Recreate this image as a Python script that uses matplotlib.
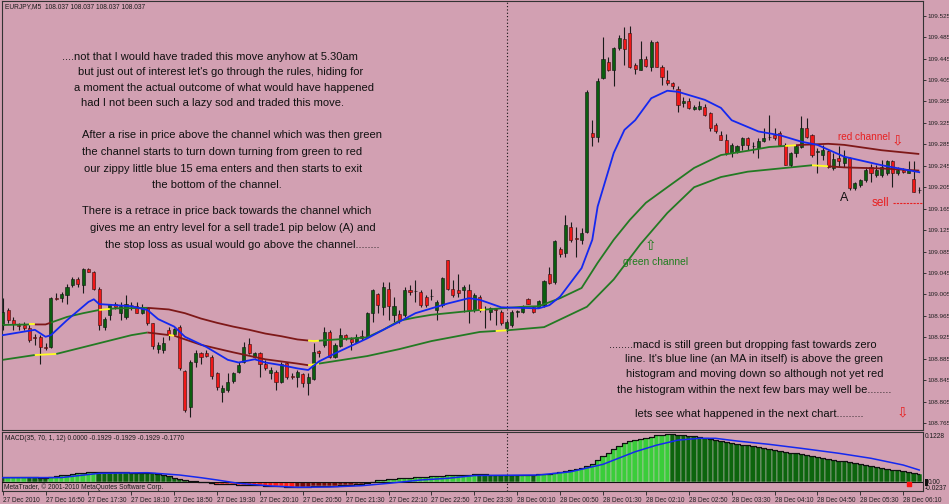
import numpy as np
import matplotlib
matplotlib.use("Agg")
import matplotlib.pyplot as plt

# ---- data (EURJPY M5, 27 Dec 16:10 -> 28 Dec 06:25) ----
opens = [108.948, 108.976, 108.958, 108.948, 108.948, 108.943, 108.925, 108.926, 108.907, 108.907,
         108.999, 108.999, 109.004, 109.022, 109.033, 109.022, 109.052, 109.047, 109.016, 108.945,
         108.966, 108.987, 108.970, 108.963, 108.985, 108.983, 108.970, 108.980, 108.951, 108.904,
         108.902, 108.939, 108.932, 108.945, 108.862, 108.795, 108.879, 108.895, 108.896, 108.889,
         108.858, 108.823, 108.826, 108.844, 108.861, 108.879, 108.913, 108.889, 108.895, 108.876,
         108.858, 108.861, 108.842, 108.877, 108.852, 108.851, 108.856, 108.839, 108.848, 108.900,
         108.910, 108.934, 108.889, 108.909, 108.929, 108.922, 108.917, 108.928, 108.926, 108.971,
         109.005, 108.982, 109.016, 108.966, 108.968, 108.966, 109.013, 109.011, 109.010, 109.001,
         109.002, 108.976, 108.985, 109.069, 109.016, 109.013, 109.013, 109.014, 108.976, 109.001,
         108.978, 108.973, 108.977, 108.973, 108.942, 108.948, 108.973, 108.973, 108.997, 108.982,
         108.982, 108.985, 109.044, 109.029, 109.090, 109.083, 109.131, 109.110, 109.106, 109.122,
         109.307, 109.299, 109.408, 109.439, 109.424, 109.464, 109.481, 109.492, 109.433, 109.424,
         109.445, 109.430, 109.475, 109.430, 109.405, 109.400, 109.389, 109.363, 109.366, 109.350,
         109.350, 109.355, 109.343, 109.321, 109.302, 109.294, 109.268, 109.271, 109.284, 109.296,
         109.282, 109.278, 109.292, 109.298, 109.302, 109.307, 109.284, 109.246, 109.268, 109.280,
         109.315, 109.302, 109.271, 109.265, 109.273, 109.240, 109.259, 109.251, 109.259, 109.203,
         109.209, 109.218, 109.243, 109.228, 109.228, 109.231, 109.253, 109.231, 109.238, 109.231,
         109.221, 109.200]
highs = [108.998, 108.979, 108.963, 108.951, 108.954, 108.948, 108.932, 108.929, 108.914, 109.001,
         109.007, 109.010, 109.025, 109.038, 109.038, 109.054, 109.055, 109.048, 109.019, 108.963,
         108.988, 108.990, 108.991, 109.004, 108.991, 108.991, 108.987, 108.982, 108.951, 108.917,
         108.926, 108.945, 108.942, 108.948, 108.864, 108.882, 108.901, 108.898, 108.901, 108.892,
         108.861, 108.836, 108.858, 108.861, 108.879, 108.917, 108.923, 108.898, 108.898, 108.882,
         108.870, 108.864, 108.879, 108.879, 108.858, 108.864, 108.859, 108.858, 108.914, 108.901,
         108.945, 108.938, 108.914, 108.942, 108.932, 108.926, 108.932, 108.938, 108.973, 109.016,
         109.007, 109.029, 109.029, 109.001, 108.976, 109.019, 109.022, 109.032, 109.013, 109.004,
         109.016, 108.994, 109.038, 109.070, 109.032, 109.044, 109.022, 109.025, 109.007, 109.004,
         108.983, 108.981, 108.979, 108.976, 108.957, 108.976, 108.976, 108.985, 108.999, 108.983,
         108.994, 109.032, 109.057, 109.106, 109.094, 109.153, 109.141, 109.131, 109.128, 109.386,
         109.330, 109.408, 109.486, 109.447, 109.467, 109.489, 109.503, 109.506, 109.436, 109.477,
         109.449, 109.480, 109.477, 109.433, 109.424, 109.402, 109.393, 109.374, 109.371, 109.358,
         109.365, 109.361, 109.346, 109.324, 109.309, 109.305, 109.287, 109.284, 109.299, 109.299,
         109.290, 109.296, 109.315, 109.340, 109.315, 109.309, 109.287, 109.271, 109.284, 109.337,
         109.334, 109.305, 109.278, 109.284, 109.274, 109.268, 109.281, 109.274, 109.262, 109.215,
         109.221, 109.243, 109.249, 109.246, 109.256, 109.256, 109.256, 109.243, 109.240, 109.253,
         109.253, 109.206]
lows = [108.938, 108.951, 108.938, 108.938, 108.938, 108.917, 108.910, 108.876, 108.902, 108.906,
        108.994, 108.990, 108.988, 109.019, 109.019, 109.007, 109.046, 109.013, 108.938, 108.938,
        108.957, 108.978, 108.957, 108.960, 108.976, 108.970, 108.968, 108.948, 108.904, 108.895,
        108.895, 108.920, 108.930, 108.864, 108.786, 108.777, 108.870, 108.876, 108.889, 108.848,
        108.826, 108.805, 108.823, 108.839, 108.858, 108.877, 108.894, 108.886, 108.851, 108.864,
        108.848, 108.826, 108.839, 108.848, 108.848, 108.833, 108.833, 108.817, 108.845, 108.889,
        108.907, 108.887, 108.887, 108.907, 108.920, 108.901, 108.914, 108.920, 108.923, 108.954,
        108.970, 108.966, 108.957, 108.954, 108.951, 108.963, 109.004, 108.991, 108.982, 108.982,
        108.994, 108.957, 108.982, 109.013, 109.001, 109.001, 108.973, 108.951, 108.973, 108.973,
        108.942, 108.957, 108.948, 108.948, 108.935, 108.945, 108.963, 108.971, 108.987, 108.971,
        108.981, 108.982, 109.025, 109.025, 109.075, 109.075, 109.103, 109.075, 109.100, 109.119,
        109.281, 109.290, 109.406, 109.421, 109.393, 109.461, 109.433, 109.427, 109.417, 109.423,
        109.430, 109.421, 109.429, 109.396, 109.396, 109.389, 109.346, 109.354, 109.350, 109.349,
        109.349, 109.338, 109.309, 109.306, 109.293, 109.265, 109.262, 109.268, 109.274, 109.274,
        109.268, 109.259, 109.290, 109.293, 109.293, 109.282, 109.246, 109.243, 109.262, 109.278,
        109.296, 109.262, 109.231, 109.256, 109.240, 109.237, 109.243, 109.243, 109.200, 109.199,
        109.206, 109.215, 109.215, 109.225, 109.225, 109.228, 109.206, 109.228, 109.232, 109.231,
        109.197, 109.194]
closes = [108.973, 108.957, 108.950, 108.947, 108.943, 108.920, 108.924, 108.907, 108.906, 108.998,
          108.996, 109.005, 109.018, 109.033, 109.024, 109.053, 109.047, 109.016, 108.948, 108.960,
          108.987, 108.982, 108.983, 108.988, 108.985, 108.971, 108.982, 108.951, 108.909, 108.910,
          108.915, 108.932, 108.940, 108.867, 108.789, 108.879, 108.895, 108.889, 108.890, 108.853,
          108.833, 108.830, 108.842, 108.858, 108.873, 108.907, 108.895, 108.896, 108.876, 108.867,
          108.864, 108.842, 108.876, 108.851, 108.851, 108.861, 108.839, 108.851, 108.898, 108.895,
          108.935, 108.889, 108.910, 108.929, 108.923, 108.917, 108.926, 108.924, 108.971, 109.013,
          108.985, 109.018, 108.983, 108.983, 108.957, 109.013, 109.010, 109.011, 108.985, 108.985,
          109.002, 108.991, 109.035, 109.016, 109.004, 109.007, 109.018, 108.976, 109.004, 108.976,
          108.977, 108.979, 108.976, 108.951, 108.954, 108.973, 108.973, 108.983, 108.988, 108.973,
          108.993, 109.030, 109.027, 109.105, 109.080, 109.134, 109.106, 109.109, 109.119, 109.383,
          109.299, 109.404, 109.445, 109.424, 109.464, 109.483, 109.462, 109.430, 109.425, 109.445,
          109.432, 109.475, 109.430, 109.411, 109.400, 109.393, 109.358, 109.366, 109.352, 109.355,
          109.357, 109.340, 109.315, 109.309, 109.294, 109.268, 109.284, 109.281, 109.296, 109.284,
          109.282, 109.292, 109.296, 109.298, 109.296, 109.284, 109.246, 109.268, 109.281, 109.315,
          109.299, 109.265, 109.271, 109.274, 109.243, 109.257, 109.253, 109.261, 109.203, 109.212,
          109.218, 109.237, 109.231, 109.237, 109.243, 109.253, 109.231, 109.237, 109.234, 109.237,
          109.197, 109.200]

# blue 15 ema, read at bar positions
ema_idx = [0, 6, 8, 9, 12, 16, 17, 18, 24, 27, 29, 32, 34, 38, 42, 44, 47, 49, 52, 55, 57, 59, 62,
           65, 68, 71, 74, 77, 80, 83, 87, 89, 93, 100, 102, 104, 108, 110, 111, 114, 116, 118, 121,
           124, 126, 131, 134, 136, 141, 145, 149, 152, 157, 164, 171]
ema_val = [108.929, 108.939, 108.926, 108.929, 108.957, 108.991, 108.996, 108.987, 108.983, 108.976,
           108.959, 108.945, 108.926, 108.907, 108.883, 108.878, 108.884, 108.878, 108.873, 108.867,
           108.864, 108.880, 108.895, 108.909, 108.923, 108.939, 108.954, 108.970, 108.979, 108.988,
           108.998, 108.995, 108.981, 108.979, 108.985, 109.001, 109.054, 109.107, 109.169, 109.269,
           109.312, 109.330, 109.371, 109.385, 109.383, 109.368, 109.353, 109.330, 109.309, 109.302,
           109.290, 109.284, 109.262, 109.246, 109.233]

# channel (upper / lower band)
upper_idx = [0, 5, 8, 12, 15, 18, 21, 27, 31, 34, 37, 40, 43, 46, 49, 52, 55, 58, 68, 71, 74, 77,
             80, 89, 97, 100, 104, 108, 111, 114, 117, 120, 124, 129, 134, 139, 143, 146, 149, 154,
             157, 164, 171]
upper_val = [108.948, 108.949, 108.949, 108.963, 108.970, 108.976, 108.979, 108.980, 108.977, 108.970,
             108.960, 108.952, 108.945, 108.939, 108.932, 108.927, 108.921, 108.918, 108.925, 108.939,
             108.956, 108.962, 108.967, 108.976, 108.982, 108.983, 108.998, 109.017, 109.064, 109.107,
             109.144, 109.176, 109.205, 109.241, 109.265, 109.273, 109.280, 109.282, 109.284, 109.286,
             109.284, 109.274, 109.267]
lower_idx = [0, 6, 10, 18, 24, 27, 32, 37, 43, 49, 55, 57, 59, 68, 74, 80, 89, 94, 101, 109, 114,
             119, 124, 129, 134, 139, 145, 151, 157, 164, 171]
lower_val = [108.883, 108.892, 108.894, 108.914, 108.929, 108.934, 108.928, 108.911, 108.897, 108.884,
             108.876, 108.873, 108.876, 108.890, 108.903, 108.918, 108.935, 108.938, 108.944, 108.982,
             109.033, 109.099, 109.157, 109.205, 109.224, 109.234, 109.240, 109.246, 109.242, 109.240,
             109.236]
# colour state of each band: up (green), down (dark red), flat (yellow)
upper_trend = [(0, 5, "up"), (5, 6, "flat"), (6, 9, "down"), (9, 18, "up"), (18, 20, "flat"),
               (20, 27, "up"), (27, 57, "down"), (57, 59, "flat"), (59, 89, "up"), (89, 90, "flat"),
               (90, 146, "up"), (146, 148, "flat"), (148, 171, "down")]
lower_trend = [(0, 6, "up"), (6, 10, "flat"), (10, 27, "up"), (27, 31, "down"), (31, 32, "flat"),
               (32, 57, "down"), (57, 59, "flat"), (59, 92, "up"), (92, 94, "flat"), (94, 151, "up"),
               (151, 154, "flat"), (154, 171, "down")]

macd_hist = [0.0130, 0.0133, 0.0136, 0.0139, 0.0141, 0.0130, 0.0122, 0.0116, 0.0111, 0.0125,
             0.0150, 0.0170, 0.0188, 0.0205, 0.0225, 0.0242, 0.0256, 0.0265, 0.0262, 0.0258,
             0.0254, 0.0251, 0.0249, 0.0247, 0.0244, 0.0241, 0.0236, 0.0230, 0.0220, 0.0200,
             0.0170, 0.0145, 0.0115, 0.0080, 0.0052, 0.0035, 0.0020, 0.0010, 0.0003, -0.0020,
             -0.0045, -0.0055, -0.0059, -0.0063, -0.0068, -0.0072, -0.0077, -0.0082, -0.0086, -0.0091,
             -0.0096, -0.0103, -0.0110, -0.0116, -0.0121, -0.0120, -0.0119, -0.0117, -0.0113, -0.0110,
             -0.0106, -0.0103, -0.0095, -0.0085, -0.0075, -0.0065, -0.0053, -0.0044, -0.0020, 0.0010,
             0.0040, 0.0060, 0.0075, 0.0085, 0.0095, 0.0103, 0.0110, 0.0118, 0.0125, 0.0135,
             0.0145, 0.0155, 0.0165, 0.0172, 0.0178, 0.0180, 0.0184, 0.0190, 0.0198, 0.0196,
             0.0194, 0.0192, 0.0190, 0.0188, 0.0186, 0.0184, 0.0183, 0.0188, 0.0193, 0.0192,
             0.0198, 0.0206, 0.0215, 0.0230, 0.0260, 0.0290, 0.0315, 0.0335, 0.0355, 0.0400,
             0.0460, 0.0570, 0.0660, 0.0750, 0.0840, 0.0940, 0.1000, 0.1057, 0.1085, 0.1110,
             0.1135, 0.1170, 0.1200, 0.1220, 0.1228, 0.1225, 0.1215, 0.1205, 0.1190, 0.1175,
             0.1150, 0.1125, 0.1100, 0.1080, 0.1055, 0.1030, 0.1015, 0.0990, 0.0965, 0.0945,
             0.0925, 0.0900, 0.0875, 0.0855, 0.0830, 0.0800, 0.0785, 0.0760, 0.0735, 0.0710,
             0.0690, 0.0670, 0.0645, 0.0620, 0.0600, 0.0575, 0.0550, 0.0530, 0.0510, 0.0485,
             0.0455, 0.0435, 0.0410, 0.0385, 0.0360, 0.0340, 0.0320, 0.0300, 0.0280, 0.0260,
             0.0230, 0.0200]
signal_idx = [0, 11, 18, 27, 33, 37, 40, 44, 50, 55, 61, 67, 72, 78, 83, 88, 100, 106, 112, 118,
              122, 126, 130, 133, 137, 143, 149, 156, 162, 168, 171]
signal_val = [0.0111, 0.0115, 0.0224, 0.0240, 0.0180, 0.0111, 0.0052, -0.0034, -0.0103, -0.0137,
              -0.0129, -0.0095, -0.0034, 0.0052, 0.0095, 0.0167, 0.0180, 0.0265, 0.0456, 0.0780,
              0.0950, 0.1080, 0.1126, 0.1126, 0.1057, 0.0971, 0.0868, 0.0740, 0.0611, 0.0438,
              0.0309]
macd_flag_idx = 169

price_ticks = [109.525, 109.485, 109.445, 109.405, 109.365, 109.325, 109.285, 109.245, 109.205,
               109.165, 109.125, 109.085, 109.045, 109.005, 108.965, 108.925, 108.885, 108.845,
               108.805, 108.765]
time_labels = ["27 Dec 2010", "27 Dec 16:50", "27 Dec 17:30", "27 Dec 18:10", "27 Dec 18:50",
               "27 Dec 19:30", "27 Dec 20:10", "27 Dec 20:50", "27 Dec 21:30", "27 Dec 22:10",
               "27 Dec 22:50", "27 Dec 23:30", "28 Dec 00:10", "28 Dec 00:50", "28 Dec 01:30",
               "28 Dec 02:10", "28 Dec 02:50", "28 Dec 03:30", "28 Dec 04:10", "28 Dec 04:50",
               "28 Dec 05:30", "28 Dec 06:10"]
day_break_idx = 94

notes_top = [
    (62, 57, "....not that I would have traded this move anyhow at 5.30am"),
    (78, 72, "but just out of interest let's go through the rules, hiding for"),
    (74, 88, "a moment the actual outcome of what would have happened"),
    (81, 103, "had I not been such a lazy sod and traded this move."),
    (82, 135, "After a rise in price above the channel which was then green"),
    (82, 152, "the channel starts to turn down turning from green to red"),
    (84, 169, "our zippy little blue 15 ema enters and then starts to exit"),
    (152, 185, "the bottom of the channel."),
    (82, 211, "There is a retrace in price back towards the channel which"),
    (90, 228, "gives me an entry level for a sell trade1 pip below (A) and"),
    (105, 245, "the stop loss as usual would go above the channel........"),
]
notes_macd = [
    (609, 345, "........macd is still green but dropping fast towards zero"),
    (625, 359, "line. It's blue line (an MA in itself) is above the green"),
    (626, 374, "histogram and moving down so although not yet red"),
    (617, 390, "the histogram within the next few bars may well be........"),
    (635, 414, "lets see what happened in the next chart........."),
]

# ---- figure ----
W, H = 949, 504
BG = "#D2A0B2"
fig = plt.figure(figsize=(W / 100, H / 100), dpi=100, facecolor=BG)
ax = fig.add_axes([2 / W, 1 - 430 / H, 921 / W, 429 / H], facecolor=BG)
mx = fig.add_axes([2 / W, 1 - 491 / H, 921 / W, 59 / H], facecolor=BG)

n = len(closes)
x = np.arange(n)
o, h, l, c = map(np.array, (opens, highs, lows, closes))
up = c >= o

ax.vlines(x, l, h, color="#1a1a1a", lw=0.8, zorder=2)
body_lo = np.minimum(o, c)
body_h = np.maximum(np.abs(c - o), 0.0007)
ax.bar(x[up], body_h[up], bottom=body_lo[up], width=0.58, color="#0B5E0F",
       edgecolor="#101010", lw=0.4, zorder=3)
ax.bar(x[~up], body_h[~up], bottom=body_lo[~up], width=0.58, color="#F01818",
       edgecolor="#301010", lw=0.4, zorder=3)

band_colors = {"up": "#237A23", "down": "#7E1818", "flat": "#FFFF20"}


def draw_band(idx, vals, trend):
    for a, b, state in trend:
        xs = [a] + [i for i in idx if a < i < b] + [b]
        ys = np.interp(xs, idx, vals)
        ax.plot(xs, ys, color=band_colors[state], lw=1.3, zorder=4, solid_capstyle="butt")


draw_band(upper_idx, upper_val, upper_trend)
draw_band(lower_idx, lower_val, lower_trend)
ax.plot(ema_idx, ema_val, color="#1428F0", lw=1.3, zorder=5)

ax.axvline(day_break_idx, color="#111111", ls=(0, (1, 2)), lw=0.8, zorder=1)
mx.axvline(day_break_idx, color="#111111", ls=(0, (1, 2)), lw=0.8, zorder=1)

tiny = ["Liberation Sans Narrow", "Liberation Sans"]

ax.set_xlim(-0.13, 171.7)
ax.set_ylim(108.7521, 109.5524)
ax.yaxis.tick_right()
ax.set_yticks(price_ticks)
ax.set_yticklabels([f"{p:.3f}" for p in price_ticks], family=tiny)
ax.tick_params(axis="y", labelsize=4.6, length=2.2, pad=1.0, width=0.6, colors="#222222")
ax.set_xticks([])

# MACD panel
hist = np.array(macd_hist)
prev = np.concatenate([[hist[0]], hist[:-1]])
cols = np.where(hist >= 0, np.where(hist > prev, "#3ACD3A", "#0D650D"),
                np.where(hist < prev, "#FF1A1A", "#7A0A0A"))
mx.bar(x, hist, width=1.0, color=cols, edgecolor="#D8C4CC", lw=0.35, zorder=2)
mx.plot(x, hist, color="#101010", lw=0.9, drawstyle="steps-mid", zorder=3)
mx.plot(signal_idx, signal_val, color="#1428F0", lw=1.1, zorder=4)
mx.axhline(0, color="#101010", lw=0.8, zorder=3)
mx.scatter([macd_flag_idx], [-0.0045], marker="s", s=12, color="#FF1010", zorder=5)
mx.set_xlim(-0.13, 171.7)
mx.set_ylim(-0.0232, 0.1289)
mx.set_yticks([])
mx.set_xticks(np.arange(0, 8 * len(time_labels), 8))
mx.set_xticklabels(time_labels, family=tiny)
mx.tick_params(axis="x", labelsize=4.7, length=3, pad=1.2, width=0.6, colors="#222222")
for lab in mx.get_xticklabels():
    lab.set_horizontalalignment("left")

for a in (ax, mx):
    for s in a.spines.values():
        s.set_color("#333333")
        s.set_linewidth(0.8)


def put(px, py, s, **kw):
    kw.setdefault("va", "center")
    fig.text(px / W, 1 - py / H, s, **kw)


small = dict(fontsize=4.8, family=tiny, color="#1a1a1a")
put(5, 7, "EURJPY,M5  108.037 108.037 108.037 108.037", **small)
put(5, 438, "MACD(35, 70, 1, 12) 0.0000 -0.1929 -0.1929 -0.1929 -0.1770", **small)
put(4, 487, "MetaTrader, \u00a9 2001-2010 MetaQuotes Software Corp.", **small)
put(925, 437, "0.1228", **small)
mx.add_patch(plt.Rectangle((924.5 / W, 1 - 486 / H), 3 / W, 7 / H, transform=fig.transFigure,
                           facecolor="#111111", edgecolor="none", clip_on=False))
put(928, 482, "0.00", **small)
put(925, 489, "-0.0237", **small)

note = dict(fontsize=8, family="Liberation Sans", color="#111111")
for px, py, s in notes_top + notes_macd:
    put(px, py, s, **note)

put(838, 137, "red channel", fontsize=7.2, family="Liberation Sans", color="#E82020")
put(892, 140, "\u21e9", fontsize=10, family="DejaVu Sans", color="#E82020")
put(623, 262, "green channel", fontsize=7.4, family="Liberation Sans", color="#1E7E1E")
put(645, 246, "\u21e7", fontsize=10, family="DejaVu Sans", color="#1E7E1E")
put(840, 198, "A", fontsize=9, family="Liberation Sans", color="#111111")
put(872, 203, "sell", fontsize=8.5, family="Liberation Sans", color="#E82020")
fig.add_artist(plt.Line2D([893 / W, 923 / W], [1 - 203 / H, 1 - 203 / H],
                          color="#E82020", lw=0.8, ls=(0, (2, 1))))
put(897, 412, "\u21e9", fontsize=10, family="DejaVu Sans", color="#E82020")

fig.savefig("out.png", dpi=100, facecolor=BG)
